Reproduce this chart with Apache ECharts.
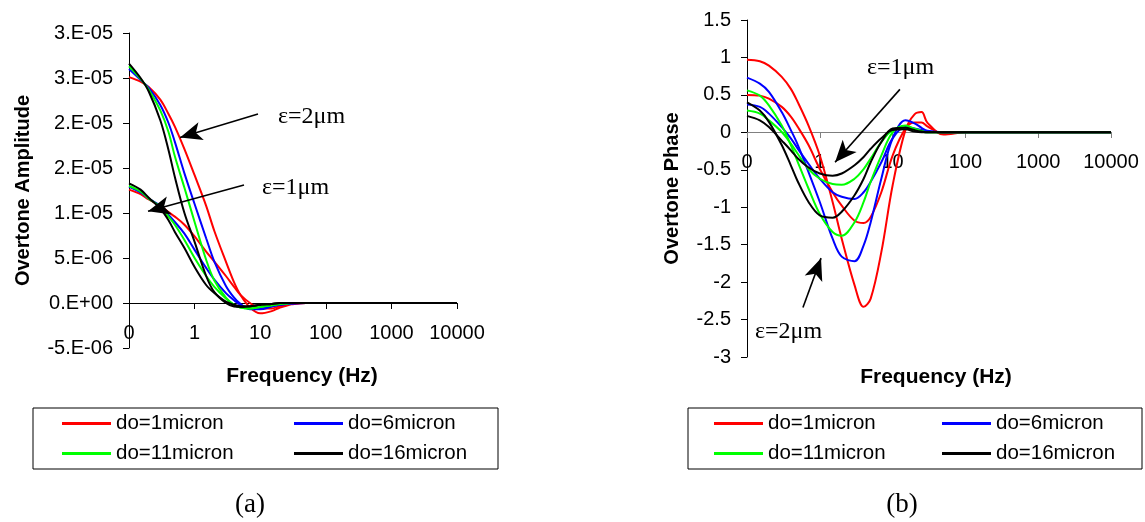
<!DOCTYPE html>
<html>
<head>
<meta charset="utf-8">
<script src="https://cdn.jsdelivr.net/npm/echarts@6/dist/echarts.min.js"></script>
<style>
html,body{margin:0;padding:0;background:#fff;}
#chart{width:1145px;height:522px;}
</style>
</head>
<body>
<div id="chart"></div>
<script>
// ---------- data ----------
const freq = [0.1, 0.15, 0.2, 0.3, 0.4, 0.5, 0.7, 1, 1.5, 2, 3, 4, 5, 7, 10, 15, 20, 25, 30, 50, 100, 1000, 10000];
const seriesNames = ['do=1micron', 'do=6micron', 'do=11micron', 'do=16micron'];
const seriesColors = ['#FF0000', '#0000FF', '#00FF00', '#000000'];

// (a) Overtone amplitude, eps = 2 um
const ampRed2   = [25.1e-6, 24.6e-6, 24.0e-6, 22.6e-6, 21.0e-6, 19.6e-6, 17.1e-6, 14.2e-6, 10.8e-6, 8.0e-6, 4.6e-6, 2.3e-6, 0.9e-6, -0.5e-6, -1.15e-6, -0.9e-6, -0.5e-6, -0.3e-6, -0.15e-6, 0, 0, 0, 0];
const ampBlue2  = [26.0e-6, 24.8e-6, 23.9e-6, 22.0e-6, 20.0e-6, 17.9e-6, 14.4e-6, 11.0e-6, 7.2e-6, 4.6e-6, 1.9e-6, 0.6e-6, -0.1e-6, -0.7e-6, -0.7e-6, -0.4e-6, -0.2e-6, -0.1e-6, -0.05e-6, 0, 0, 0, 0];
const ampGreen2 = [26.3e-6, 24.9e-6, 23.7e-6, 21.4e-6, 19.0e-6, 16.3e-6, 12.8e-6, 9.0e-6, 4.8e-6, 2.5e-6, 0.6e-6, -0.2e-6, -0.5e-6, -0.6e-6, -0.45e-6, -0.25e-6, -0.1e-6, -0.05e-6, 0, 0, 0, 0, 0];
const ampBlack2 = [26.6e-6, 25.0e-6, 23.5e-6, 20.3e-6, 17.0e-6, 14.0e-6, 10.0e-6, 6.8e-6, 3.0e-6, 1.2e-6, 0.0, -0.4e-6, -0.45e-6, -0.35e-6, -0.2e-6, -0.1e-6, 0, 0, 0, 0, 0, 0, 0];
// (a) Overtone amplitude, eps = 1 um
const ampRed1   = [12.6e-6, 12.1e-6, 11.5e-6, 10.8e-6, 10.1e-6, 9.6e-6, 8.7e-6, 7.4e-6, 5.7e-6, 4.6e-6, 3.0e-6, 1.8e-6, 0.9e-6, 0.0, -0.6e-6, -0.6e-6, -0.35e-6, -0.2e-6, -0.1e-6, 0, 0, 0, 0];
const ampBlue1  = [12.9e-6, 12.3e-6, 11.6e-6, 10.8e-6, 9.8e-6, 9.0e-6, 7.7e-6, 5.9e-6, 3.9e-6, 2.6e-6, 1.1e-6, 0.3e-6, -0.2e-6, -0.6e-6, -0.6e-6, -0.35e-6, -0.2e-6, -0.1e-6, -0.05e-6, 0, 0, 0, 0];
const ampGreen1 = [13.0e-6, 12.4e-6, 11.6e-6, 10.7e-6, 9.6e-6, 8.7e-6, 7.0e-6, 5.0e-6, 3.0e-6, 1.8e-6, 0.5e-6, -0.2e-6, -0.5e-6, -0.6e-6, -0.45e-6, -0.25e-6, -0.1e-6, -0.05e-6, 0, 0, 0, 0, 0];
const ampBlack1 = [13.3e-6, 12.6e-6, 11.7e-6, 10.5e-6, 9.2e-6, 7.9e-6, 6.1e-6, 4.0e-6, 2.0e-6, 1.1e-6, 0.15e-6, -0.2e-6, -0.35e-6, -0.35e-6, -0.2e-6, -0.1e-6, 0, 0, 0, 0, 0, 0, 0];

// (b) Overtone phase, eps = 2 um
const phRed2   = [0.97, 0.95, 0.89, 0.74, 0.58, 0.40, 0.09, -0.31, -0.93, -1.42, -2.04, -2.33, -2.22, -1.60, -0.71, 0.03, 0.24, 0.27, 0.13, -0.03, 0, 0, 0];
const phBlue2  = [0.73, 0.65, 0.54, 0.27, 0.03, -0.17, -0.53, -0.93, -1.42, -1.66, -1.72, -1.51, -1.20, -0.62, -0.08, 0.16, 0.12, 0.06, 0.02, 0, 0, 0, 0];
const phGreen2 = [0.56, 0.49, 0.36, 0.09, -0.17, -0.40, -0.75, -1.09, -1.33, -1.38, -1.20, -0.93, -0.66, -0.31, 0.0, 0.09, 0.05, 0.02, 0.0, 0, 0, 0, 0];
const phBlack2 = [0.40, 0.29, 0.14, -0.17, -0.44, -0.66, -0.93, -1.11, -1.14, -1.06, -0.84, -0.62, -0.40, -0.13, 0.05, 0.06, 0.03, 0.01, 0, 0, 0, 0, 0];
// (b) Overtone phase, eps = 1 um
const phRed1   = [0.50, 0.49, 0.45, 0.34, 0.21, 0.07, -0.17, -0.49, -0.80, -0.98, -1.18, -1.21, -1.13, -0.80, -0.31, 0.05, 0.13, 0.13, 0.08, -0.02, 0, 0, 0];
const phBlue1  = [0.37, 0.34, 0.25, 0.07, -0.08, -0.22, -0.42, -0.62, -0.80, -0.86, -0.89, -0.80, -0.66, -0.40, -0.08, 0.07, 0.05, 0.03, 0.01, 0, 0, 0, 0];
const phGreen1 = [0.29, 0.25, 0.16, 0.005, -0.15, -0.29, -0.49, -0.62, -0.69, -0.70, -0.62, -0.49, -0.35, -0.13, 0.03, 0.06, 0.03, 0.01, 0, 0, 0, 0, 0];
const phBlack1 = [0.22, 0.16, 0.07, -0.11, -0.24, -0.35, -0.47, -0.55, -0.58, -0.55, -0.44, -0.33, -0.22, -0.08, 0.03, 0.04, 0.01, 0, 0, 0, 0, 0, 0];

// tick labels
const xTickLabels = ['0', '1', '10', '100', '1000', '10000'];
const yTickLabelsA = ['-5.E-06', '0.E+00', '5.E-06', '1.E-05', '2.E-05', '2.E-05', '3.E-05', '3.E-05'];
const yMinA = -5e-6, yMaxA = 3e-5, yStepA = 5e-6;
const yMinB = -3, yMaxB = 1.5, yStepB = 0.5;

// annotation arrows (data coordinates)
const arrowsA = [
  { from: [9.25, 21.0e-6], to: [0.60, 18.4e-6] },
  { from: [5.66, 13.1e-6], to: [0.195, 10.2e-6] }
];
const arrowsB = [
  { from: [12.6, 0.574], to: [1.62, -0.40] },
  { from: [0.587, -2.34], to: [1.04, -1.68] }
];

// ---------- chart ----------
const SANS = "'Liberation Sans', Arial, Helvetica, sans-serif";
const SERIF = "'Liberation Serif', 'Times New Roman', serif";
const chart = echarts.init(document.getElementById('chart'), null, { renderer: 'canvas' });

function pairs(arr) { return freq.map((f, i) => [f, arr[i]]); }

const groupsA = [
  [ampRed2, ampRed1], [ampBlue2, ampBlue1], [ampGreen2, ampGreen1], [ampBlack2, ampBlack1]
];
const groupsB = [
  [phRed2, phRed1], [phBlue2, phBlue1], [phGreen2, phGreen1], [phBlack2, phBlack1]
];

function makeArrowMarkLine(arrows) {
  return {
    silent: true,
    animation: false,
    symbol: ['none', 'arrow'],
    symbolSize: [14, 22],
    lineStyle: { color: '#000', width: 1.6, type: 'solid' },
    itemStyle: { color: '#000' },
    label: { show: false },
    emphasis: { disabled: true },
    data: arrows.map(a => [{ coord: a.from }, { coord: a.to }])
  };
}

const series = [];
[[groupsA, 0, arrowsA], [groupsB, 1, arrowsB]].forEach(([groups, idx, arrows]) => {
  groups.forEach((g, ci) => {
    g.forEach((arr) => {
      series.push({
        type: 'line',
        name: seriesNames[ci],
        xAxisIndex: idx, yAxisIndex: idx,
        data: pairs(arr),
        showSymbol: false,
        smooth: 0.35,
        color: seriesColors[ci],
        lineStyle: { width: 2, color: seriesColors[ci] },
        animation: false,
        z: 3
      });
    });
  });
  series.push({
    type: 'line', name: '__arrows' + idx, xAxisIndex: idx, yAxisIndex: idx,
    data: [], showSymbol: false, animation: false, z: 5,
    markLine: makeArrowMarkLine(arrows)
  });
});

// x axis is drawn through y = 0: offset (negative = upwards) from the grid bottom
function xAxisCfg(gi, lineColor, offset) {
  return {
    type: 'log', logBase: 10, gridIndex: gi, min: 0.1, max: 10000,
    position: 'bottom', offset: offset,
    axisLine: { show: true, onZero: false, lineStyle: { color: lineColor, width: 1 } },
    axisTick: { show: true, length: 6, inside: false, lineStyle: { color: lineColor } },
    axisLabel: {
      fontSize: 20, fontFamily: SANS, color: '#000', margin: 20,
      formatter: (v) => xTickLabels[Math.round(Math.log10(v)) + 1]
    },
    splitLine: { show: false },
    minorTick: { show: false }
  };
}

function yAxisCfg(gi, min, max, step, name, gap, fmt) {
  return {
    type: 'value', gridIndex: gi, min: min, max: max, interval: step,
    axisLine: { show: true, onZero: false, lineStyle: { color: '#000', width: 1 } },
    axisTick: { show: true, length: 6, inside: false, lineStyle: { color: '#000' } },
    axisLabel: { fontSize: 20, fontFamily: SANS, color: '#000', margin: 16, formatter: fmt },
    splitLine: { show: false },
    name: name, nameLocation: 'middle', nameGap: gap,
    nameTextStyle: { fontSize: 20, fontWeight: 'bold', fontFamily: SANS, color: '#000' }
  };
}

function legendItem(name, left, top) {
  return {
    data: [name], left: left, top: top, padding: 0,
    itemWidth: 49, itemHeight: 3, icon: 'rect', selectedMode: false,
    textStyle: { fontSize: 20.5, fontFamily: SANS, color: '#000' }
  };
}

const legends = [
  legendItem(seriesNames[0], 62, 413), legendItem(seriesNames[1], 294, 413),
  legendItem(seriesNames[2], 62, 443), legendItem(seriesNames[3], 294, 443),
  legendItem(seriesNames[0], 714, 413), legendItem(seriesNames[1], 942, 413),
  legendItem(seriesNames[2], 714, 443), legendItem(seriesNames[3], 942, 443)
];

function txt(x, y, text, font, align) {
  return {
    type: 'text', x: x, y: y, silent: true,
    style: Object.assign({ text: text, fill: '#000', align: align || 'left', verticalAlign: 'middle' }, font)
  };
}
const serifFont = { fontSize: 24, fontFamily: SERIF };
const titleFont = { fontSize: 21, fontWeight: 'bold', fontFamily: SANS };

const gridA = { left: 129, top: 33, width: 328, height: 315 };
const gridB = { left: 747, top: 20, width: 364, height: 337 };
// pixel distance from grid bottom up to the value 0
const offA = -Math.round(gridA.height * (0 - yMinA) / (yMaxA - yMinA));
const offB = -Math.round(gridB.height * (0 - yMinB) / (yMaxB - yMinB));

const option = {
  backgroundColor: '#fff',
  animation: false,
  grid: [
    Object.assign({ containLabel: false }, gridA),
    Object.assign({ containLabel: false }, gridB)
  ],
  xAxis: [xAxisCfg(0, '#000', offA), xAxisCfg(1, '#808080', offB)],
  yAxis: [
    yAxisCfg(0, yMinA, yMaxA, yStepA, 'Overtone Amplitude', 96,
      (v) => yTickLabelsA[Math.round((v - yMinA) / yStepA)]),
    yAxisCfg(1, yMinB, yMaxB, yStepB, 'Overtone Phase', 65, null)
  ],
  legend: legends,
  series: series,
  graphic: [
    { type: 'rect', shape: { x: 33, y: 408, width: 465, height: 61 }, style: { fill: 'none', stroke: '#000', lineWidth: 1 }, silent: true },
    { type: 'rect', shape: { x: 688, y: 408, width: 454, height: 61 }, style: { fill: 'none', stroke: '#000', lineWidth: 1 }, silent: true },
    txt(302, 376, 'Frequency (Hz)', titleFont, 'center'),
    txt(936, 377, 'Frequency (Hz)', titleFont, 'center'),
    txt(278, 117, 'ε=2μm', serifFont),
    txt(262, 188, 'ε=1μm', serifFont),
    txt(867, 68, 'ε=1μm', serifFont),
    txt(755, 332, 'ε=2μm', serifFont),
    txt(250, 505, '(a)', { fontSize: 27, fontFamily: SERIF }, 'center'),
    txt(902, 505, '(b)', { fontSize: 27, fontFamily: SERIF }, 'center')
  ]
};
chart.setOption(option);
</script>
</body>
</html>
